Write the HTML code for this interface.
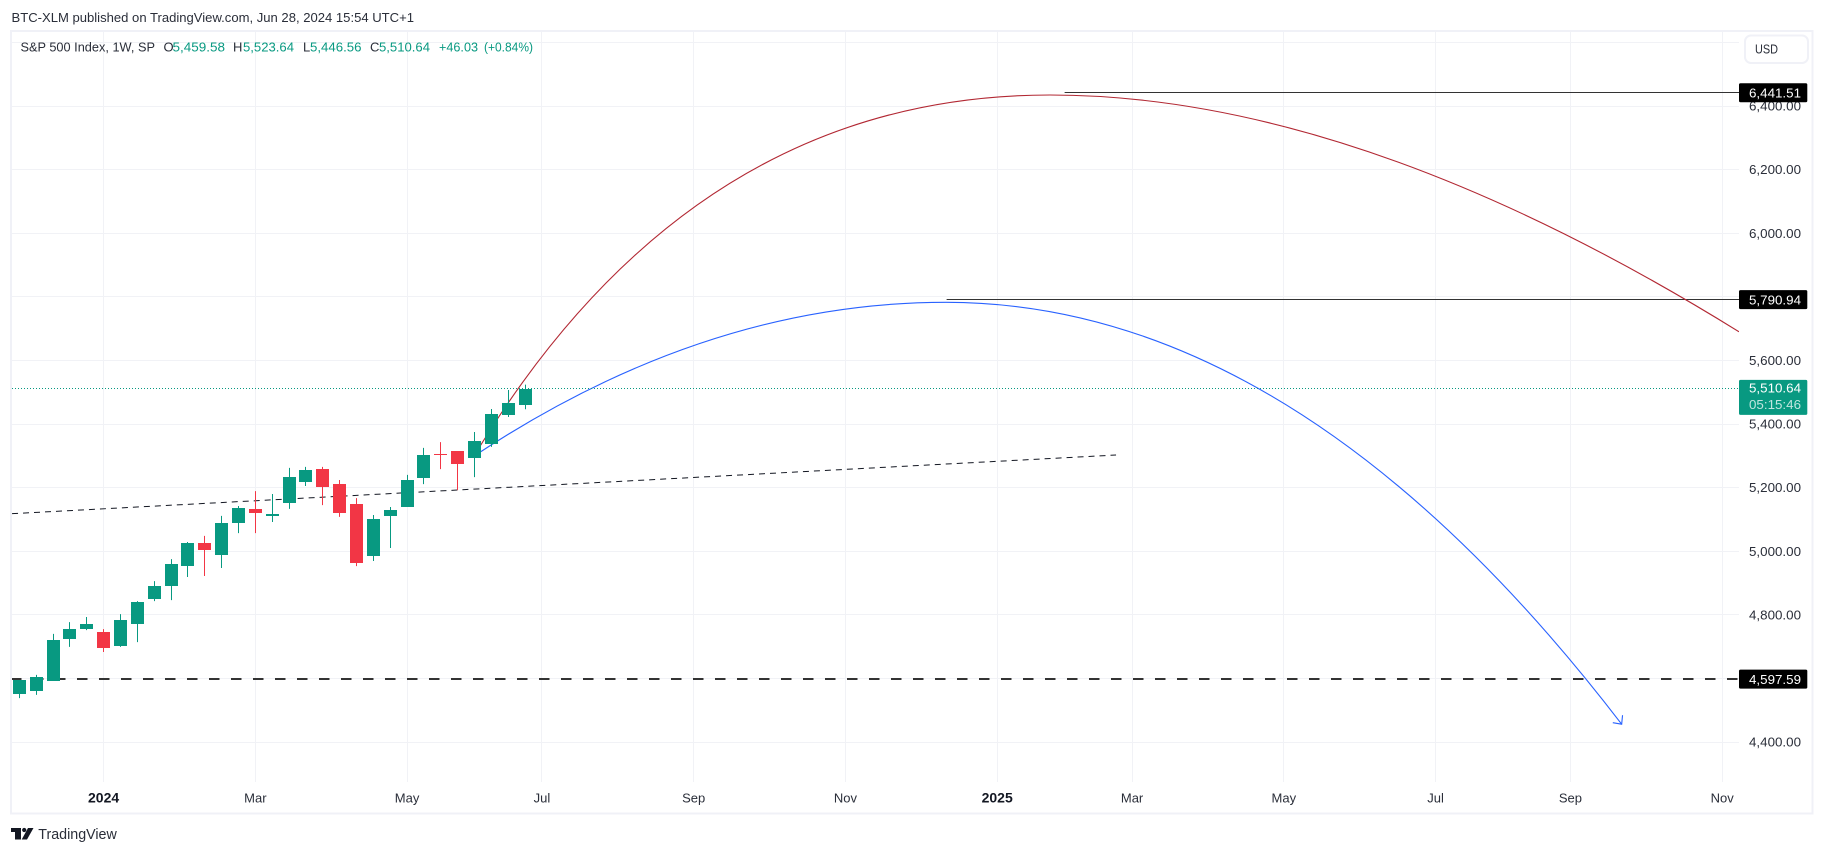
<!DOCTYPE html>
<html lang="en">
<head>
<meta charset="utf-8">
<title>S&amp;P 500 Index weekly chart</title>
<style>
html,body{margin:0;padding:0;background:#fff;width:1824px;height:853px;overflow:hidden}
svg{display:block;font-family:"Liberation Sans",sans-serif}
</style>
</head>
<body>
<svg id="chart" xmlns="http://www.w3.org/2000/svg" width="1824" height="853" viewBox="0 0 1824 853">
  <rect x="0" y="0" width="1824" height="853" fill="#ffffff"/>
  <text x="11.5" y="22" font-size="13" fill="#2a2e39" textLength="402.5" lengthAdjust="spacingAndGlyphs">BTC-XLM published on TradingView.com, Jun 28, 2024 15:54 UTC+1</text>
  <rect x="11" y="31" width="1801.5" height="782.5" fill="none" stroke="#f0f1f7" stroke-width="2"/>
  <clipPath id="pane-clip"><rect x="12" y="32" width="1727" height="750"/></clipPath>
  <g id="grid"></g>
  <g id="pane" clip-path="url(#pane-clip)"></g>
  <g id="y-axis"></g>
  <g id="x-axis"></g>
  <g font-size="13">
    <text x="20.5" y="51.5" fill="#2a2e39" textLength="134.5" lengthAdjust="spacingAndGlyphs">S&amp;P 500 Index, 1W, SP</text>
    <text x="163.5" y="51.5" fill="#2a2e39">O</text>
    <text x="172.5" y="51.5" fill="#089981" textLength="52.5" lengthAdjust="spacingAndGlyphs">5,459.58</text>
    <text x="233" y="51.5" fill="#2a2e39">H</text>
    <text x="243" y="51.5" fill="#089981" textLength="51" lengthAdjust="spacingAndGlyphs">5,523.64</text>
    <text x="303" y="51.5" fill="#2a2e39">L</text>
    <text x="310" y="51.5" fill="#089981" textLength="51.5" lengthAdjust="spacingAndGlyphs">5,446.56</text>
    <text x="370" y="51.5" fill="#2a2e39">C</text>
    <text x="379" y="51.5" fill="#089981" textLength="51" lengthAdjust="spacingAndGlyphs">5,510.64</text>
    <text x="439" y="51.5" fill="#089981" textLength="39" lengthAdjust="spacingAndGlyphs">+46.03</text>
    <text x="484" y="51.5" fill="#089981" textLength="49" lengthAdjust="spacingAndGlyphs">(+0.84%)</text>
  </g>
  <g>
    <rect x="1745" y="35.5" width="63" height="27.5" rx="6" fill="#ffffff" stroke="#f0f1f7" stroke-width="2"/>
    <text x="1755" y="53.5" font-size="13" fill="#2a2e39" textLength="23" lengthAdjust="spacingAndGlyphs">USD</text>
  </g>
  <g>
    <path fill="#131722" d="M11 828H21V839.5H15V832H11ZM28 828H33.5L27 839.5H21.7Z"/>
    <circle cx="24.2" cy="830" r="2.1" fill="#131722"/>
    <text x="38.3" y="839" font-size="15" fill="#2a2e39" textLength="78.5" lengthAdjust="spacingAndGlyphs">TradingView</text>
  </g>
</svg>
<script>
// ---- Candle data: weekly OHLC, first candle is 5 weeks before 1 Jan 2024 ----
const firstCandleWeek = -5;
const candleOpen  = [4551,4560,4592,4724,4755,4746,4702,4771,4850,4891,4954,5026,4988,5089,5133,5111,5152,5218,5259,5211,5148,4985,5111,5139,5230,5306,5315,5293,5337,5428,5459.58];
const candleHigh  = [4595,4611,4740,4777,4793,4755,4802,4843,4906,4975,5029,5048,5111,5142,5189,5180,5262,5265,5265,5224,5167,5114,5139,5240,5325,5343,5315,5375,5447,5507,5523.64];
const candleLow   = [4538,4548,4592,4699,4752,4683,4699,4714,4843,4846,4919,4922,4947,5057,5057,5092,5133,5205,5145,5108,4953,4969,5010,5139,5211,5258,5192,5233,5328,5422,5446.56];
const candleClose = [4595,4604,4721,4755,4771,4696,4784,4840,4891,4960,5026,5004,5089,5136,5120,5117,5233,5255,5202,5120,4963,5101,5129,5224,5302,5302.5,5274,5346,5431,5466,5510.64];

// ---- Axis ticks ----
const gridPrices = [4400,4600,4800,5000,5200,5400,5600,5800,6000,6200,6400,6600];
const priceTickLabels = [4400,4800,5000,5200,5400,5600,6000,6200,6400];
const timeTickWeeks = [0,9,18,26,35,44,53,61,70,79,87,96];
const timeTickLabels = ['2024','Mar','May','Jul','Sep','Nov','2025','Mar','May','Jul','Sep','Nov'];

// ---- Drawings: each curve is start, control, peak, control, end (week, price) ----
const redCurveWeeks  = [21.97,34.87,56.13,74.34,97];
const redCurvePrices = [5299,6434.6,6434.6,6434.6,5690];
const blueCurveWeeks  = [21.97,35.73,49.96,70.84,90.04];
const blueCurvePrices = [5299,5782.7,5782.7,5782.7,4456];
const trendWeeks  = [-5.43,60.05];
const trendPrices = [5118,5302.5];
const levelPrices = [6441.51,5790.94];
const levelStartWeeks = [57,50];
const supportPrice = 4597.59;
const countdownText = '05:15:46';

// ---- Axis functions ----
function xOf(week){ return 103.6 + 16.86 * week; }
function yOf(price){ return 742 - (price - 4400) * 0.318; }
function crisp(v){ return Math.floor(v) + 0.5; }
function fmt(v){ return v.toLocaleString('en-US',{minimumFractionDigits:2,maximumFractionDigits:2}); }

const NS = 'http://www.w3.org/2000/svg';
function make(parent, tag, attrs, text){
  const el = document.createElementNS(NS, tag);
  for (const k in attrs) el.setAttribute(k, attrs[k]);
  if (text !== undefined) el.textContent = text;
  parent.appendChild(el);
  return el;
}
function curvePath(weeks, prices){
  const p = weeks.map(function(w,i){ return xOf(w).toFixed(2) + ' ' + yOf(prices[i]).toFixed(2); });
  return 'M' + p[0] + 'Q' + p[1] + ' ' + p[2] + 'Q' + p[3] + ' ' + p[4];
}

const gridG = document.getElementById('grid');
const pane = document.getElementById('pane');
const yAxis = document.getElementById('y-axis');
const xAxis = document.getElementById('x-axis');
const UP = '#089981', DOWN = '#f23645', GRID = '#f1f2f6', INK = '#2a2e39';

// Grid
gridPrices.forEach(function(p){
  const y = crisp(yOf(p));
  const el = make(gridG,'line',{x1:12,x2:1739,y1:y,y2:y,stroke:GRID,'stroke-width':1});
  
  
});
timeTickWeeks.forEach(function(w){
  const x = crisp(xOf(w));
  const el = make(gridG,'line',{x1:x,x2:x,y1:32,y2:782,stroke:GRID,'stroke-width':1});
  
  
});

// Trend line
const trend = make(pane,'line',{x1:xOf(trendWeeks[0]),y1:yOf(trendPrices[0]),x2:xOf(trendWeeks[1]),y2:yOf(trendPrices[1]),stroke:'#131722','stroke-width':1,'stroke-dasharray':'6 5'});



// Resistance levels
levelPrices.forEach(function(p,i){
  const y = crisp(yOf(p));
  const el = make(pane,'line',{x1:xOf(levelStartWeeks[i]),x2:1739,y1:y,y2:y,stroke:'#333333','stroke-width':1});
  
  
});

// Support level
const supY = Math.round(yOf(supportPrice));
const sup = make(pane,'line',{x1:11,x2:1739,y1:supY,y2:supY,stroke:'#333333','stroke-width':2,'stroke-dasharray':'10.5 11.5'});



// Curves
const red = make(pane,'path',{d:curvePath(redCurveWeeks,redCurvePrices),fill:'none',stroke:'#b22833','stroke-width':1.1});


const blue = make(pane,'path',{d:curvePath(blueCurveWeeks,blueCurvePrices),fill:'none',stroke:'#2962ff','stroke-width':1.1});



// Arrow head on blue curve
(function(){
  const n = blueCurveWeeks.length - 1;
  const tx = xOf(blueCurveWeeks[n]), ty = yOf(blueCurvePrices[n]);
  const px = xOf(blueCurveWeeks[n-1]), py = yOf(blueCurvePrices[n-1]);
  const a = Math.atan2(py-ty, px-tx), len = 9, spread = 43*Math.PI/180;
  const d = 'M' + (tx+len*Math.cos(a+spread)) + ' ' + (ty+len*Math.sin(a+spread)) + 'L' + tx + ' ' + ty + 'L' + (tx+len*Math.cos(a-spread)) + ' ' + (ty+len*Math.sin(a-spread));
  const head = make(pane,'path',{d:d,fill:'none',stroke:'#2962ff','stroke-width':1.1});
  
  
})();

// Candles
candleOpen.forEach(function(o,i){
  const c = candleClose[i], h = candleHigh[i], l = candleLow[i];
  const color = c >= o ? UP : DOWN;
  const cx = crisp(xOf(firstCandleWeek + i));
  const wick = make(pane,'line',{x1:cx,x2:cx,y1:yOf(h),y2:yOf(l),stroke:color,'stroke-width':1});
  
  
  const top = Math.round(yOf(Math.max(o,c))), bot = Math.round(yOf(Math.min(o,c)));
  const body = make(pane,'rect',{x:cx-6.5,y:top,width:13,height:Math.max(1,bot-top),fill:color});
  
  
});

// Last price line
const lastPrice = candleClose[candleClose.length-1];
const lastY = crisp(yOf(lastPrice));
const lastLine = make(pane,'line',{x1:12,x2:1739,y1:lastY,y2:lastY,stroke:UP,'stroke-width':1,'stroke-dasharray':'1 2'});



// Price axis labels
priceTickLabels.forEach(function(p){
  const t = make(yAxis,'text',{x:1749,y:yOf(p)+4.6,'font-size':13,fill:INK,textLength:52,lengthAdjust:'spacingAndGlyphs'},fmt(p));
  
  
});

// Level tags
levelPrices.concat([supportPrice]).forEach(function(p){
  const y = yOf(p);
  const box = make(yAxis,'rect',{x:1739,y:y-9.5,width:68.3,height:19,rx:1.5,fill:'#000000'});
  
  
  const t = make(yAxis,'text',{x:1749,y:y+4.6,'font-size':13,fill:'#ffffff',textLength:52,lengthAdjust:'spacingAndGlyphs'},fmt(p));
  
  
});

// Last price tag
(function(){
  const y = yOf(lastPrice);
  const box = make(yAxis,'rect',{x:1739,y:y-9,width:68.3,height:35,rx:1.5,fill:UP});
  
  
  const t = make(yAxis,'text',{x:1749,y:y+3.5,'font-size':13,fill:'#ffffff',textLength:52,lengthAdjust:'spacingAndGlyphs'},fmt(lastPrice));
  
  
  const t2 = make(yAxis,'text',{x:1749,y:y+20,'font-size':13,fill:'#ffffff','fill-opacity':0.75,textLength:52,lengthAdjust:'spacingAndGlyphs'},countdownText);
  
  
})();

// Time axis labels
timeTickLabels.forEach(function(label,i){
  const isYear = /^\d{4}$/.test(label);
  const t = make(xAxis,'text',{x:xOf(timeTickWeeks[i]),y:802.5,'font-size':isYear?14:13,'font-weight':isYear?'bold':'normal','text-anchor':'middle',fill:isYear?'#131722':INK},label);
  
  
});
</script>
</body>
</html>
